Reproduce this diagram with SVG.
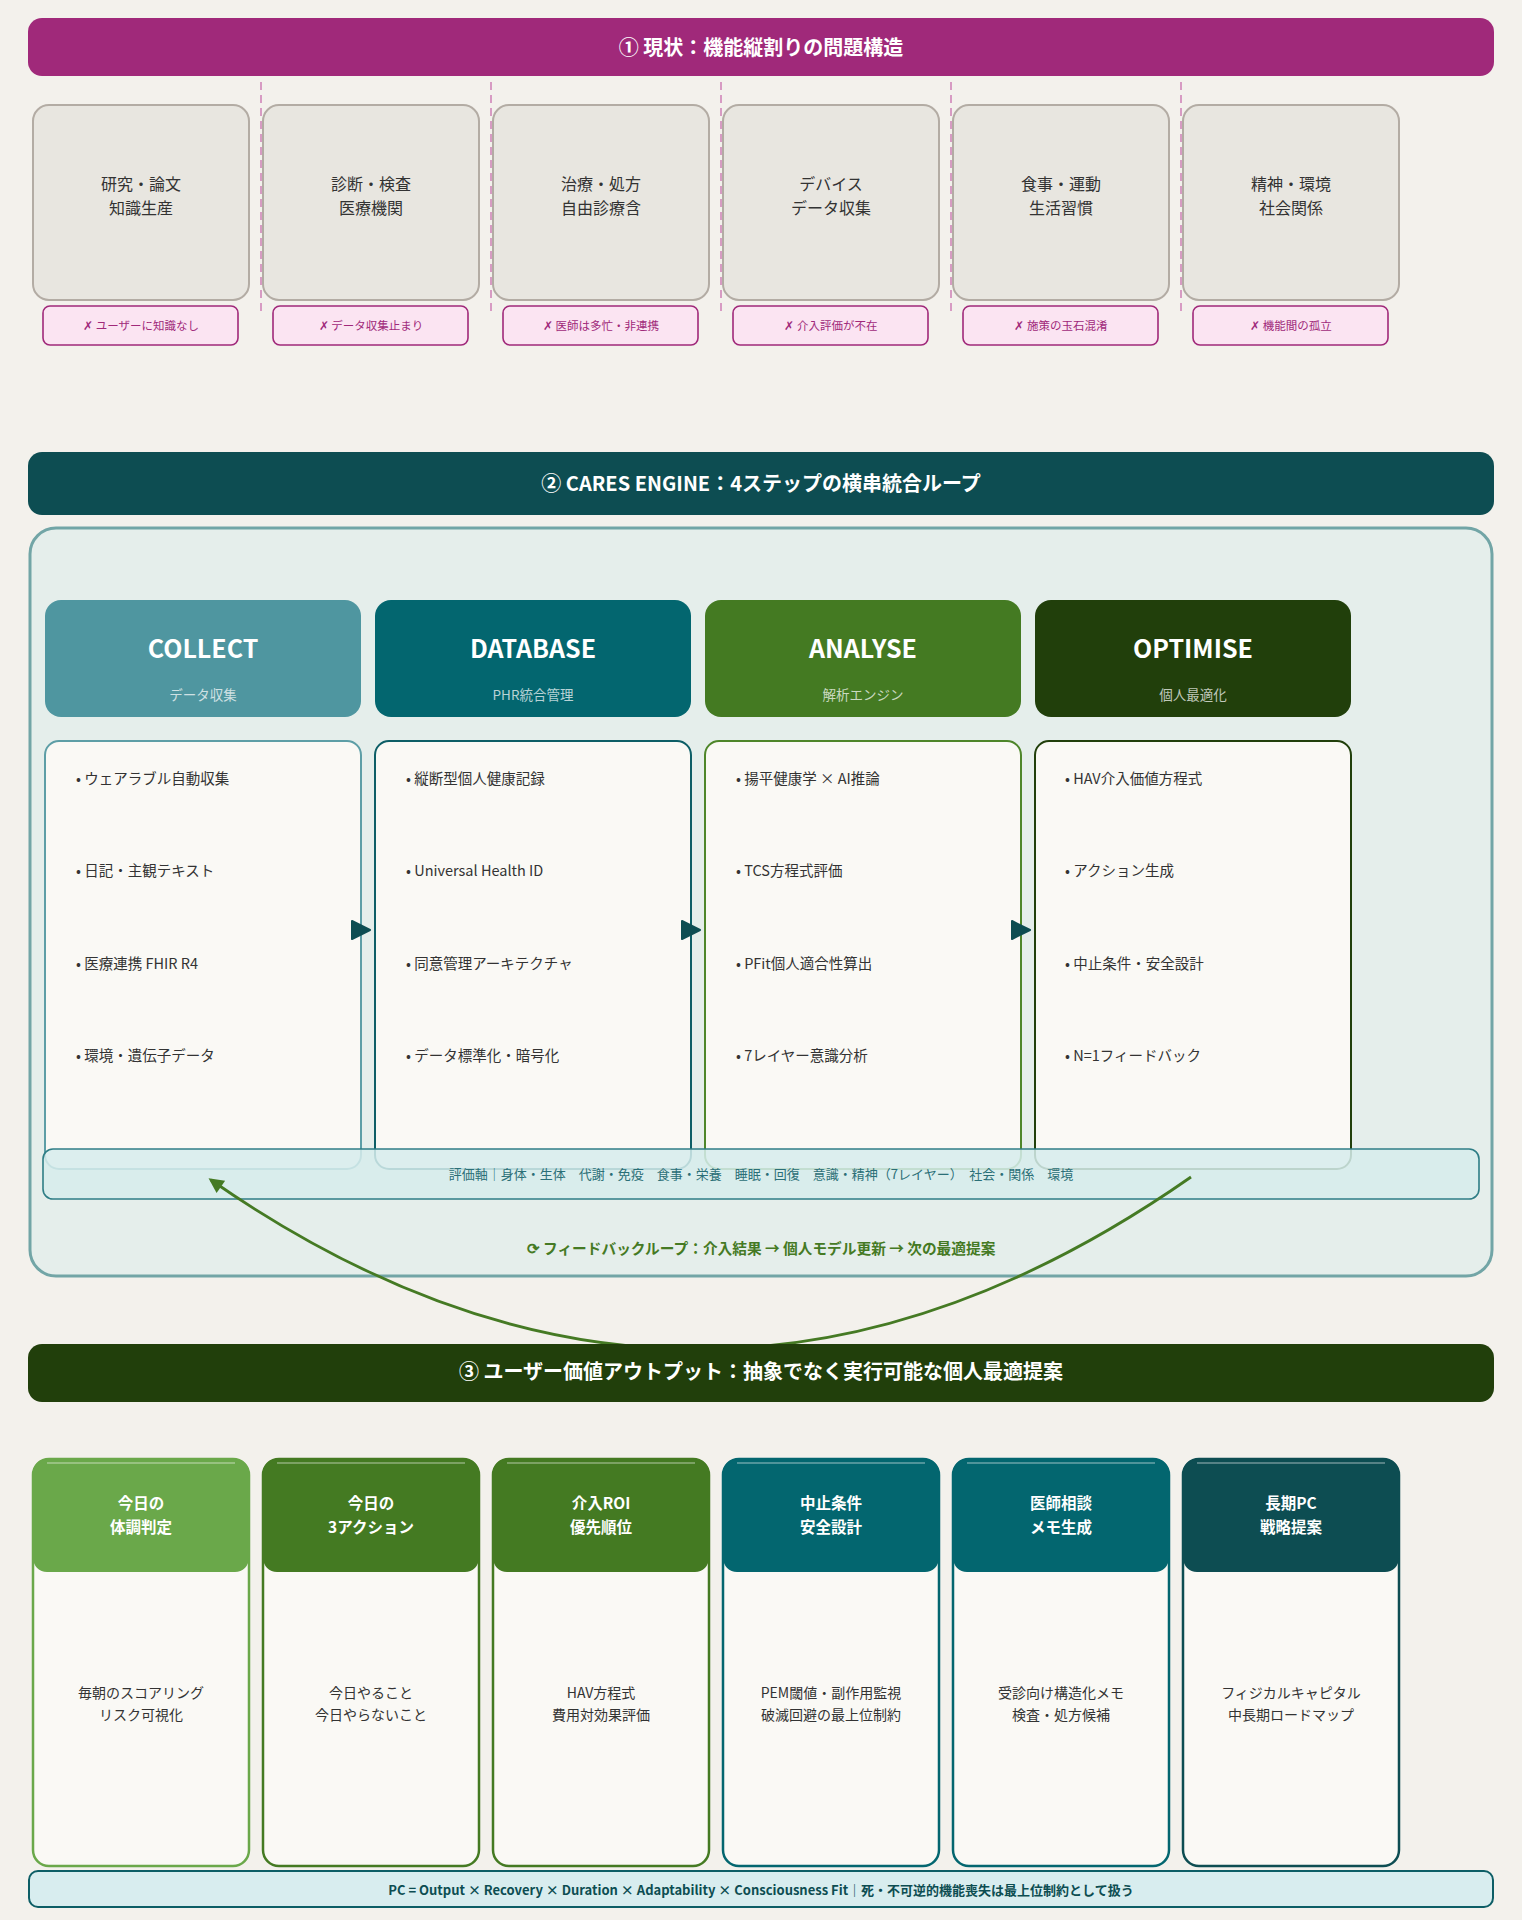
<svg xmlns="http://www.w3.org/2000/svg" width="1522" height="1920" viewBox="0 0 1522 1920">
<defs>
<style>
text{font-family:"Noto Sans CJK JP","Noto Sans",sans-serif;dominant-baseline:central;text-anchor:middle}
.hdr{font-size:20px;font-weight:700;fill:#ffffff}
.gbox{fill:#e8e6e0;stroke:#b3aca4;stroke-width:2}
.gtxt{font-size:16px;fill:#333333}
.tag{fill:#fbe4f2;stroke:#a0297a;stroke-width:1.6}
.tagt{font-size:11.5px;fill:#a0297a}
.dash{stroke:#d79bc3;stroke-width:2;stroke-dasharray:8 5}
.stitle{font-size:25px;font-weight:700;fill:#ffffff}
.ssub{font-size:13.5px;fill:#ffffff;fill-opacity:0.72}
.cbox{fill:#faf9f5;stroke-width:2}
.bul{font-size:14.5px;fill:#333333;text-anchor:start}
.card{fill:#faf9f5;stroke-width:2.5}
.ctitle{font-size:15.5px;font-weight:700;fill:#ffffff}
.cbody{font-size:14px;fill:#333333}
.hl{stroke:#ffffff;stroke-opacity:0.3;stroke-width:2}
</style>
<marker id="ah" viewBox="0 0 10 10" refX="8" refY="5" markerUnits="userSpaceOnUse" markerWidth="17" markerHeight="15" orient="auto">
<path d="M0,0 L10,5 L0,10 z" fill="#457a24"/>
</marker>
</defs>
<rect x="0" y="0" width="1522" height="1920" fill="#f3f1ec"/>

<!-- Section 1 -->
<g id="header1">
<rect x="28" y="18" width="1466" height="58" rx="14" fill="#a0297a"/>
<text class="hdr" x="761" y="46">① 現状：機能縦割りの問題構造</text>
</g>
<g id="dividers">
<line class="dash" x1="261" y1="82" x2="261" y2="312"/>
<line class="dash" x1="491" y1="82" x2="491" y2="312"/>
<line class="dash" x1="721" y1="82" x2="721" y2="312"/>
<line class="dash" x1="951" y1="82" x2="951" y2="312"/>
<line class="dash" x1="1181" y1="82" x2="1181" y2="312"/>
</g>
<g id="silo1">
<rect class="gbox" x="33" y="105" width="216" height="195" rx="16"/>
<text class="gtxt" x="141" y="183">研究・論文</text>
<text class="gtxt" x="141" y="207">知識生産</text>
<rect class="tag" x="43" y="306" width="195" height="39" rx="7"/>
<text class="tagt" x="141" y="325">✗ ユーザーに知識なし</text>
</g>
<g id="silo2">
<rect class="gbox" x="263" y="105" width="216" height="195" rx="16"/>
<text class="gtxt" x="371" y="183">診断・検査</text>
<text class="gtxt" x="371" y="207">医療機関</text>
<rect class="tag" x="273" y="306" width="195" height="39" rx="7"/>
<text class="tagt" x="371" y="325">✗ データ収集止まり</text>
</g>
<g id="silo3">
<rect class="gbox" x="493" y="105" width="216" height="195" rx="16"/>
<text class="gtxt" x="601" y="183">治療・処方</text>
<text class="gtxt" x="601" y="207">自由診療含</text>
<rect class="tag" x="503" y="306" width="195" height="39" rx="7"/>
<text class="tagt" x="601" y="325">✗ 医師は多忙・非連携</text>
</g>
<g id="silo4">
<rect class="gbox" x="723" y="105" width="216" height="195" rx="16"/>
<text class="gtxt" x="831" y="183">デバイス</text>
<text class="gtxt" x="831" y="207">データ収集</text>
<rect class="tag" x="733" y="306" width="195" height="39" rx="7"/>
<text class="tagt" x="831" y="325">✗ 介入評価が不在</text>
</g>
<g id="silo5">
<rect class="gbox" x="953" y="105" width="216" height="195" rx="16"/>
<text class="gtxt" x="1061" y="183">食事・運動</text>
<text class="gtxt" x="1061" y="207">生活習慣</text>
<rect class="tag" x="963" y="306" width="195" height="39" rx="7"/>
<text class="tagt" x="1061" y="325">✗ 施策の玉石混淆</text>
</g>
<g id="silo6">
<rect class="gbox" x="1183" y="105" width="216" height="195" rx="16"/>
<text class="gtxt" x="1291" y="183">精神・環境</text>
<text class="gtxt" x="1291" y="207">社会関係</text>
<rect class="tag" x="1193" y="306" width="195" height="39" rx="7"/>
<text class="tagt" x="1291" y="325">✗ 機能間の孤立</text>
</g>

<!-- Section 2 -->
<g id="header2">
<rect x="28" y="452" width="1466" height="63" rx="14" fill="#0d4d52"/>
<text class="hdr" x="761" y="482">② CARES ENGINE：4ステップの横串統合ループ</text>
</g>
<g id="engine">
<rect x="30" y="528" width="1462" height="748" rx="26" fill="#e5eeeb" stroke="#72a5a6" stroke-width="3"/>
</g>
<g id="collect">
<rect x="45" y="600" width="316" height="117" rx="16" fill="#4f96a0"/>
<text class="stitle" x="203" y="647">COLLECT</text>
<text class="ssub" x="203" y="694">データ収集</text>
<rect class="cbox" x="45" y="741" width="316" height="428" rx="14" stroke="#5d9ea6"/>
<text class="bul" x="76" y="777">• ウェアラブル自動収集</text>
<text class="bul" x="76" y="869">• 日記・主観テキスト</text>
<text class="bul" x="76" y="962">• 医療連携 FHIR R4</text>
<text class="bul" x="76" y="1054">• 環境・遺伝子データ</text>
</g>
<g id="database">
<rect x="375" y="600" width="316" height="117" rx="16" fill="#03666f"/>
<text class="stitle" x="533" y="647">DATABASE</text>
<text class="ssub" x="533" y="694">PHR統合管理</text>
<rect class="cbox" x="375" y="741" width="316" height="428" rx="14" stroke="#0d5e66"/>
<text class="bul" x="406" y="777">• 縦断型個人健康記録</text>
<text class="bul" x="406" y="869">• Universal Health ID</text>
<text class="bul" x="406" y="962">• 同意管理アーキテクチャ</text>
<text class="bul" x="406" y="1054">• データ標準化・暗号化</text>
</g>
<g id="analyse">
<rect x="705" y="600" width="316" height="117" rx="16" fill="#447a22"/>
<text class="stitle" x="863" y="647">ANALYSE</text>
<text class="ssub" x="863" y="694">解析エンジン</text>
<rect class="cbox" x="705" y="741" width="316" height="428" rx="14" stroke="#4e862a"/>
<text class="bul" x="736" y="777">• 揚平健康学 × AI推論</text>
<text class="bul" x="736" y="869">• TCS方程式評価</text>
<text class="bul" x="736" y="962">• PFit個人適合性算出</text>
<text class="bul" x="736" y="1054">• 7レイヤー意識分析</text>
</g>
<g id="optimise">
<rect x="1035" y="600" width="316" height="117" rx="16" fill="#213f0b"/>
<text class="stitle" x="1193" y="647">OPTIMISE</text>
<text class="ssub" x="1193" y="694">個人最適化</text>
<rect class="cbox" x="1035" y="741" width="316" height="428" rx="14" stroke="#213f0b"/>
<text class="bul" x="1065" y="777">• HAV介入価値方程式</text>
<text class="bul" x="1065" y="869">• アクション生成</text>
<text class="bul" x="1065" y="962">• 中止条件・安全設計</text>
<text class="bul" x="1065" y="1054">• N=1フィードバック</text>
</g>
<g id="axis">
<rect x="43" y="1149" width="1436" height="50" rx="10" fill="#d6ecec" fill-opacity="0.86" stroke="#2f7e86" stroke-width="1.6"/>
<text x="761" y="1173" font-size="13px" fill="#2b6f77">評価軸｜身体・生体　代謝・免疫　食事・栄養　睡眠・回復　意識・精神（7レイヤー）　社会・関係　環境</text>
</g>
<g id="feedback">
<text x="761" y="1247" font-size="14.7px" font-weight="700" fill="#457a24">⟳ フィードバックループ：介入結果 → 個人モデル更新 → 次の最適提案</text>
</g>

<!-- Connectors -->
<g id="connectors">
<path d="M352,921 L370,930 L352,939 Z" fill="#0d4d52" stroke="#0d4d52" stroke-width="2" stroke-linejoin="round"/>
<path d="M682,921 L700,930 L682,939 Z" fill="#0d4d52" stroke="#0d4d52" stroke-width="2" stroke-linejoin="round"/>
<path d="M1012,921 L1030,930 L1012,939 Z" fill="#0d4d52" stroke="#0d4d52" stroke-width="2" stroke-linejoin="round"/>
<path d="M1191,1177 Q700,1520 211,1180" fill="none" stroke="#457a24" stroke-width="2.8" marker-end="url(#ah)"/>
</g>

<!-- Section 3 -->
<g id="header3">
<rect x="28" y="1344" width="1466" height="58" rx="14" fill="#213f0b"/>
<text class="hdr" x="761" y="1370" font-size="19.8px">③ ユーザー価値アウトプット：抽象でなく実行可能な個人最適提案</text>
</g>
<g id="out1">
<rect class="card" x="33" y="1459" width="216" height="407" rx="16" stroke="#6aa84a"/>
<rect x="33" y="1459" width="216" height="113" rx="14" fill="#6aa84a"/>
<line class="hl" x1="47" y1="1463" x2="235" y2="1463"/>
<text class="ctitle" x="141" y="1502">今日の</text>
<text class="ctitle" x="141" y="1526">体調判定</text>
<text class="cbody" x="141" y="1692">毎朝のスコアリング</text>
<text class="cbody" x="141" y="1714">リスク可視化</text>
</g>
<g id="out2">
<rect class="card" x="263" y="1459" width="216" height="407" rx="16" stroke="#447a22"/>
<rect x="263" y="1459" width="216" height="113" rx="14" fill="#447a22"/>
<line class="hl" x1="277" y1="1463" x2="465" y2="1463"/>
<text class="ctitle" x="371" y="1502">今日の</text>
<text class="ctitle" x="371" y="1526">3アクション</text>
<text class="cbody" x="371" y="1692">今日やること</text>
<text class="cbody" x="371" y="1714">今日やらないこと</text>
</g>
<g id="out3">
<rect class="card" x="493" y="1459" width="216" height="407" rx="16" stroke="#447a22"/>
<rect x="493" y="1459" width="216" height="113" rx="14" fill="#447a22"/>
<line class="hl" x1="507" y1="1463" x2="695" y2="1463"/>
<text class="ctitle" x="601" y="1502">介入ROI</text>
<text class="ctitle" x="601" y="1526">優先順位</text>
<text class="cbody" x="601" y="1692">HAV方程式</text>
<text class="cbody" x="601" y="1714">費用対効果評価</text>
</g>
<g id="out4">
<rect class="card" x="723" y="1459" width="216" height="407" rx="16" stroke="#03666f"/>
<rect x="723" y="1459" width="216" height="113" rx="14" fill="#03666f"/>
<line class="hl" x1="737" y1="1463" x2="925" y2="1463"/>
<text class="ctitle" x="831" y="1502">中止条件</text>
<text class="ctitle" x="831" y="1526">安全設計</text>
<text class="cbody" x="831" y="1692">PEM閾値・副作用監視</text>
<text class="cbody" x="831" y="1714">破滅回避の最上位制約</text>
</g>
<g id="out5">
<rect class="card" x="953" y="1459" width="216" height="407" rx="16" stroke="#03666f"/>
<rect x="953" y="1459" width="216" height="113" rx="14" fill="#03666f"/>
<line class="hl" x1="967" y1="1463" x2="1155" y2="1463"/>
<text class="ctitle" x="1061" y="1502">医師相談</text>
<text class="ctitle" x="1061" y="1526">メモ生成</text>
<text class="cbody" x="1061" y="1692">受診向け構造化メモ</text>
<text class="cbody" x="1061" y="1714">検査・処方候補</text>
</g>
<g id="out6">
<rect class="card" x="1183" y="1459" width="216" height="407" rx="16" stroke="#0d4d52"/>
<rect x="1183" y="1459" width="216" height="113" rx="14" fill="#0d4d52"/>
<line class="hl" x1="1197" y1="1463" x2="1385" y2="1463"/>
<text class="ctitle" x="1291" y="1502">長期PC</text>
<text class="ctitle" x="1291" y="1526">戦略提案</text>
<text class="cbody" x="1291" y="1692">フィジカルキャピタル</text>
<text class="cbody" x="1291" y="1714">中長期ロードマップ</text>
</g>
<g id="formula">
<rect x="29" y="1871" width="1464" height="36" rx="9" fill="#d8edef" stroke="#0d5e66" stroke-width="2"/>
<text x="761" y="1889" font-size="13px" font-weight="700" fill="#0d4d52">PC = Output × Recovery × Duration × Adaptability × Consciousness Fit｜死・不可逆的機能喪失は最上位制約として扱う</text>
</g>
</svg>
